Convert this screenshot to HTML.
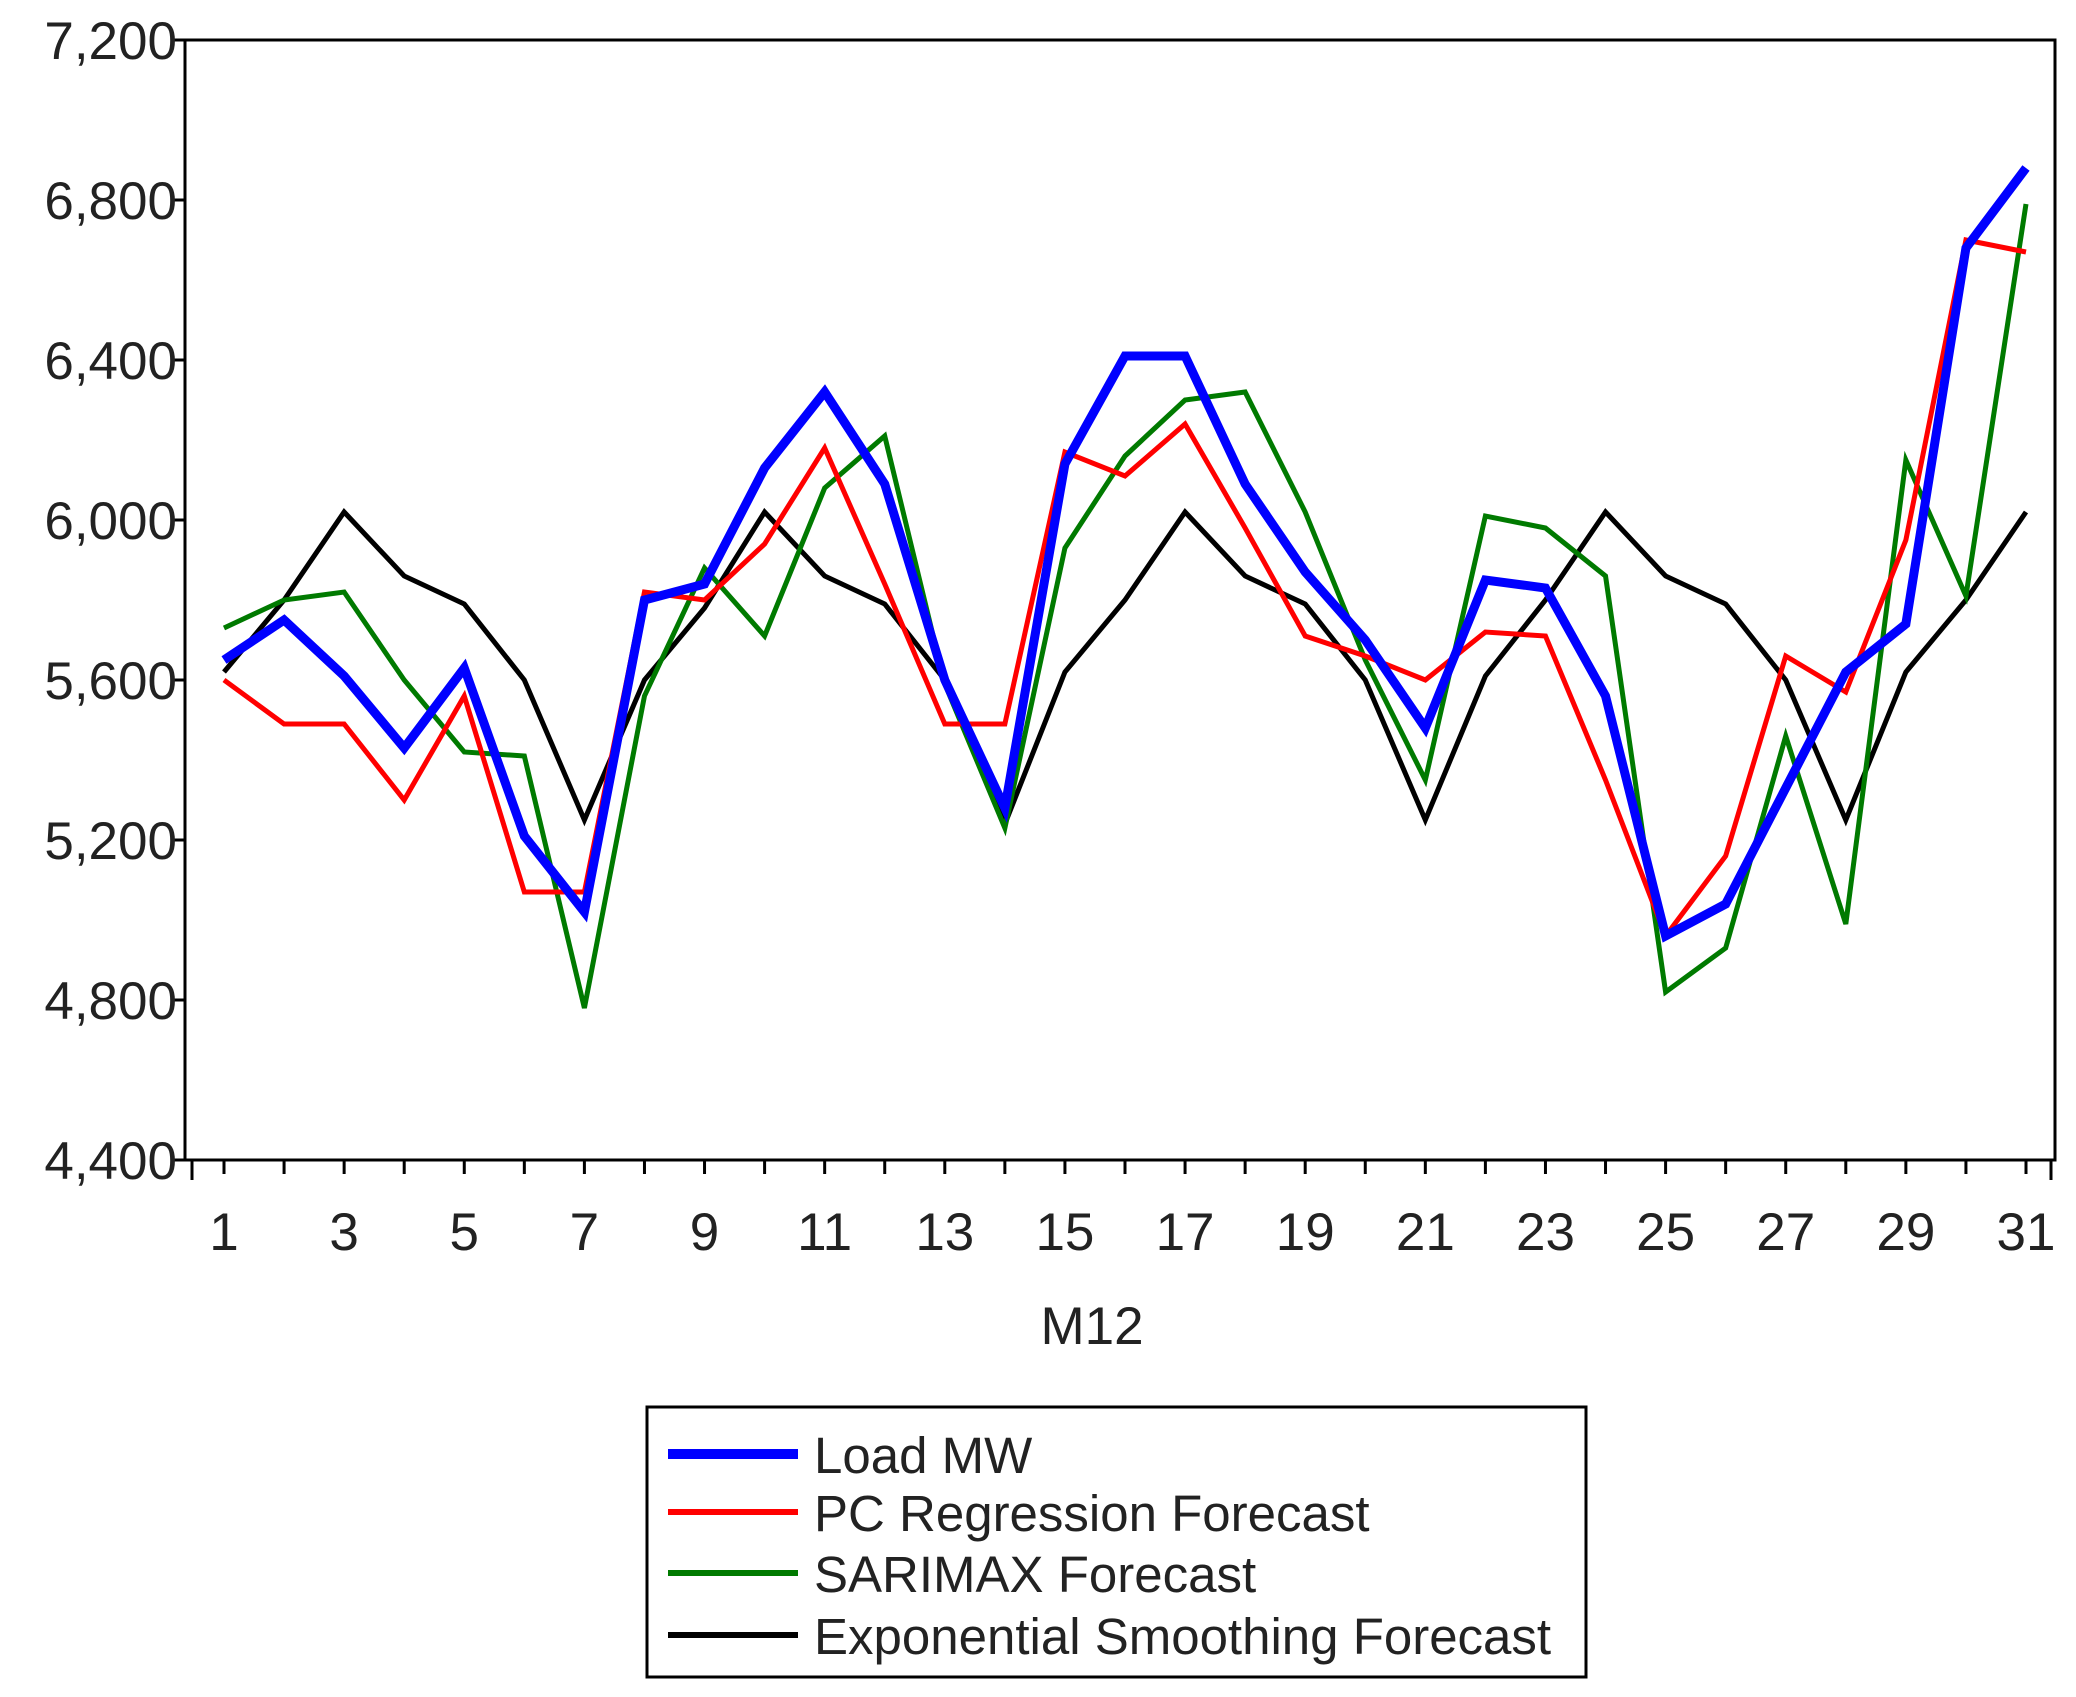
<!DOCTYPE html>
<html><head><meta charset="utf-8"><style>
html,body{margin:0;padding:0;background:#fff;}
svg{display:block;font-family:"Liberation Sans",sans-serif;}
</style></head><body>
<svg id="chart" width="2076" height="1697" viewBox="0 0 2076 1697" xmlns="http://www.w3.org/2000/svg"></svg>
<script>
const days = Array.from({length:31},(_,i)=>i+1);
const loadMW = [5650,5750,5610,5430,5630,5210,5020,5800,5840,6130,6320,6090,5600,5280,6140,6410,6410,6090,5870,5700,5480,5850,5830,5560,4960,5040,5330,5620,5740,6680,6880];
const pcRegression = [5600,5490,5490,5300,5560,5070,5070,5820,5800,5940,6180,5840,5490,5490,6170,6110,6240,5980,5710,5660,5600,5720,5710,5350,4960,5160,5660,5570,5950,6700,6670];
const sarimax = [5730,5800,5820,5600,5420,5410,4780,5560,5880,5710,6080,6210,5590,5230,5930,6160,6300,6320,6020,5650,5350,6010,5980,5860,4820,4930,5460,4990,6150,5810,6790];
const expSmoothing = [5620,5800,6020,5860,5790,5600,5250,5600,5780,6020,5860,5790,5600,5240,5620,5800,6020,5860,5790,5600,5250,5610,5800,6020,5860,5790,5600,5250,5620,5800,6020];
const yTicks = [4400,4800,5200,5600,6000,6400,6800,7200];
const xLabels = [1,3,5,7,9,11,13,15,17,19,21,23,25,27,29,31];
const seriesNames = ["Load MW","PC Regression Forecast","SARIMAX Forecast","Exponential Smoothing Forecast"];

const NS="http://www.w3.org/2000/svg";
const svg=document.getElementById('chart');
const L=185,R=2055,T=40,B=1160;
const x=d=>224+(d-1)*(2026-224)/30;
const y=v=>B-(v-4400)/(7200-4400)*(B-T);
function mk(tag,attrs,parent){const e=document.createElementNS(NS,tag);for(const k in attrs)e.setAttribute(k,attrs[k]);(parent||svg).appendChild(e);return e;}

const frame=mk('rect',{x:L,y:T,width:R-L,height:B-T,fill:'none',stroke:'#000','stroke-width':3});



yTicks.forEach(v=>{
  const t=mk('line',{x1:L-12,x2:L,y1:y(v),y2:y(v),stroke:'#000','stroke-width':3});
  
  
  const tx=mk('text',{x:L-8,y:y(v)+19,'text-anchor':'end','font-size':53,fill:'#222'});
  tx.textContent=v.toLocaleString('en-US');
  
  
});
days.forEach(d=>{
  const t=mk('line',{x1:x(d),x2:x(d),y1:B,y2:B+14,stroke:'#000','stroke-width':3});
  
  
});
[L+7,R-4].forEach(px=>{const t=mk('line',{x1:px,x2:px,y1:B,y2:B+20,stroke:'#000','stroke-width':3});
  
  });
xLabels.forEach(d=>{
  const tx=mk('text',{x:x(d),y:1250,'text-anchor':'middle','font-size':53,fill:'#222'});
  tx.textContent=d;
  
  
});
const xt=mk('text',{x:1092,y:1344,'text-anchor':'middle','font-size':53,fill:'#222'});
xt.textContent='M12';



const series=[[loadMW,'#0000ff',9],[pcRegression,'#ff0000',5],[sarimax,'#007a00',5],[expSmoothing,'#000000',5]];
const drawOrder=[3,2,1,0];
drawOrder.forEach(i=>{
  const [vals,col,w]=series[i];
  const p=mk('polyline',{points:vals.map((v,j)=>x(days[j])+','+y(v)).join(' '),fill:'none',stroke:col,'stroke-width':w,'stroke-linejoin':'miter'});
  
  
});

const lg=mk('rect',{x:647,y:1407,width:939,height:270,fill:'#fff',stroke:'#000','stroke-width':3});


const rows=[1454,1512,1573,1635];
seriesNames.forEach((n,i)=>{
  const ln=mk('line',{x1:668,x2:798,y1:rows[i],y2:rows[i],stroke:series[i][1],'stroke-width':i===0?10:6});
  
  
  const tx=mk('text',{x:814,y:rows[i]+19,'font-size':51,fill:'#222'});
  tx.textContent=n;
  
  
});
</script>
</body></html>
